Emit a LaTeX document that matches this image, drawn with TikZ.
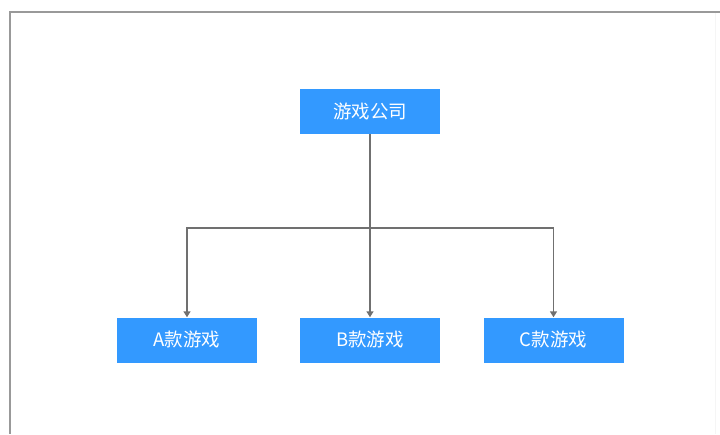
\documentclass[tikz,border=0pt]{standalone}
\usepackage{fontspec}
\setmainfont{Noto Sans CJK SC}
\usetikzlibrary{arrows.meta}
\definecolor{boxblue}{HTML}{3399FF}
\definecolor{linegray}{HTML}{707070}
\definecolor{framegray}{HTML}{999999}

\begin{document}
\begin{tikzpicture}
  [x=1pt,y=-1pt,
   every node/.style={fill=boxblue,text=white,minimum width=140pt,minimum height=45pt,
     inner sep=0pt,font=\fontsize{18.5}{20}\selectfont},
   link/.style={draw=linegray,line width=1.4pt,-{Triangle[width=7pt,length=6pt]}}]
  \useasboundingbox (0,0) rectangle (720,434);
  \draw[framegray,line width=2pt] (720,12) -- (10,12) -- (10,434);
  \draw[gray!8,line width=1pt] (715,13) -- (715,434);

  \node (company) at (370,111.5) {游戏公司};
  \node (gameA) at (187,340) {A款游戏};
  \node (gameB) at (370,340) {B款游戏};
  \node (gameC) at (553.5,340) {C款游戏};
  \coordinate (split) at (370,228);

  \foreach \to in {gameA,gameB,gameC}
    \draw[link] (company) -- (split) -| (\to);

\end{tikzpicture}
\end{document}
